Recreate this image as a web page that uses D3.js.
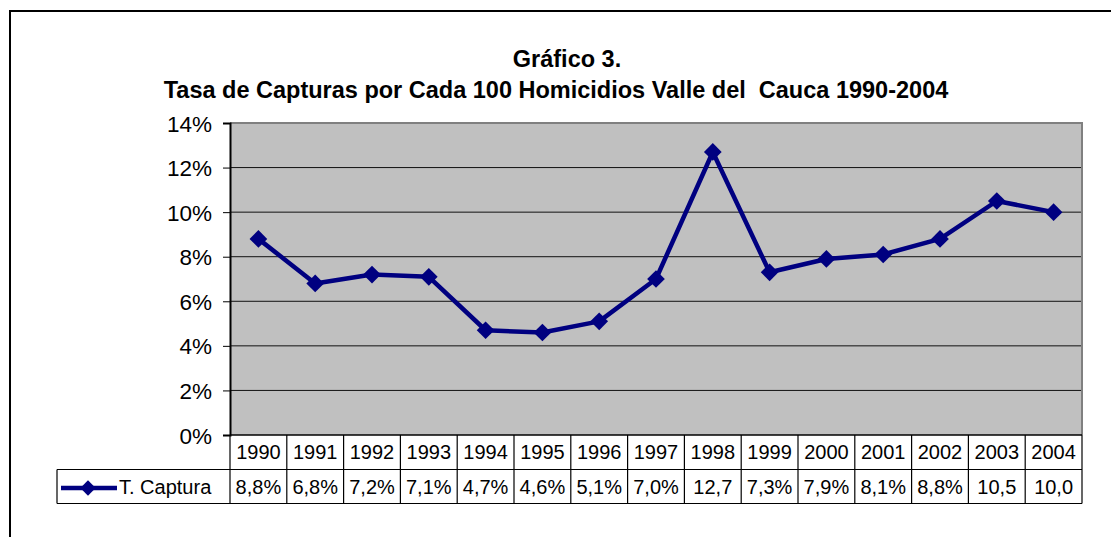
<!DOCTYPE html>
<html>
<head>
<meta charset="utf-8">
<script src="https://cdn.jsdelivr.net/npm/d3@7"></script>
<style>
  body { margin: 0; background: #fff; }
  text { font-family: "Liberation Sans", Arial, sans-serif; }
</style>
</head>
<body>
<svg id="chart" width="1111" height="537"></svg>
<script>
// data
const years = ["1990","1991","1992","1993","1994","1995","1996","1997","1998","1999","2000","2001","2002","2003","2004"]
const captura = [8.8, 6.8, 7.2, 7.1, 4.7, 4.6, 5.1, 7.0, 12.7, 7.3, 7.9, 8.1, 8.8, 10.5, 10.0]
const tableLabels = ["8,8%","6,8%","7,2%","7,1%","4,7%","4,6%","5,1%","7,0%","12,7","7,3%","7,9%","8,1%","8,8%","10,5","10,0"]
const yTicks = [0, 2, 4, 6, 8, 10, 12, 14]
const seriesName = "T. Captura"
const titleLines = ["Gráfico 3.", "Tasa de Capturas por Cada 100 Homicidios Valle del  Cauca 1990-2004"]

const svg = d3.select("#chart")
const plotL = 230, plotR = 1082, plotT = 123, plotB = 435
const row1 = 469.5, row2 = 503.5, legendLeft = 57
const navy = "#000080"

// outer frame
svg.append("rect")
   .attr("x", 10).attr("y", 11)
   .attr("width", 1140).attr("height", 560)
   .attr("fill", "none").attr("stroke", "#000").attr("stroke-width", 2)

// title
svg.append("text").attr("x", 567).attr("y", 67)
   .attr("text-anchor", "middle").attr("font-size", 23.5).attr("font-weight", "bold")
   .text(titleLines[0])
svg.append("text").attr("x", 556).attr("y", 98)
   .attr("text-anchor", "middle").attr("font-size", 23.5).attr("font-weight", "bold")
   .style("white-space", "pre")
   .text(titleLines[1])

let x = d3.scaleBand().domain(years).range([plotL, plotR])
let y = d3.scaleLinear().domain([0, 14]).range([plotB, plotT])

// plot area
svg.append("rect")
   .attr("x", plotL).attr("y", plotT)
   .attr("width", plotR - plotL).attr("height", plotB - plotT)
   .attr("fill", "#c0c0c0")

// gridlines
svg.append("g").selectAll("line")
   .data(yTicks.filter(d => d > 0 && d < 14))
   .join("line")
   .attr("x1", plotL).attr("x2", plotR)
   .attr("y1", d => y(d)).attr("y2", d => y(d))
   .attr("stroke", "#111").attr("stroke-width", 1)

// grey border top/right
svg.append("path")
   .attr("d", `M${plotL},${plotT}H${plotR}V${plotB}`)
   .attr("fill", "none").attr("stroke", "#808080").attr("stroke-width", 2)

// y axis
let yAxis = d3.axisLeft(y).tickValues(yTicks).tickFormat(d => d + "%").tickSize(7).tickPadding(11)
let ga = svg.append("g").attr("transform", `translate(${plotL},0)`).call(yAxis)
ga.select(".domain").attr("stroke", "#000").attr("stroke-width", 2)
ga.selectAll(".tick line").attr("stroke", "#000")
ga.selectAll(".tick text").attr("font-size", 22.5).attr("fill", "#000")
  .attr("font-family", "Liberation Sans, Arial, sans-serif").attr("dy", "0.36em")

// x axis line
svg.append("line").attr("x1", plotL).attr("x2", plotR).attr("y1", plotB).attr("y2", plotB)
   .attr("stroke", "#000").attr("stroke-width", 1.5)

// series line
let pts = years.map((yr, i) => [x(yr) + x.bandwidth() / 2, y(captura[i])])
svg.append("path")
   .attr("d", d3.line()(pts))
   .attr("fill", "none").attr("stroke", navy).attr("stroke-width", 4.5)
   .attr("stroke-linejoin", "round")

let diamond = d3.symbol().type(d3.symbolDiamond2).size(200)
svg.append("g").selectAll("path")
   .data(pts)
   .join("path")
   .attr("transform", d => `translate(${d[0]},${d[1]})`)
   .attr("d", diamond)
   .attr("fill", navy)

// data table
let tbl = svg.append("g").attr("stroke", "#000").attr("stroke-width", 1.2)
tbl.append("line").attr("x1", legendLeft).attr("x2", plotR).attr("y1", row1).attr("y2", row1)
tbl.append("line").attr("x1", legendLeft).attr("x2", plotR).attr("y1", row2).attr("y2", row2)
tbl.append("line").attr("x1", legendLeft).attr("x2", legendLeft).attr("y1", row1).attr("y2", row2)
tbl.selectAll(".vl")
   .data(years.concat(["end"]))
   .join("line")
   .attr("x1", (d, i) => plotL + i * x.bandwidth())
   .attr("x2", (d, i) => plotL + i * x.bandwidth())
   .attr("y1", plotB).attr("y2", row2)

svg.append("g").selectAll("text")
   .data(years)
   .join("text")
   .attr("x", d => x(d) + x.bandwidth() / 2)
   .attr("y", 459)
   .attr("text-anchor", "middle").attr("font-size", 20)
   .text(d => d)

svg.append("g").selectAll("text")
   .data(tableLabels)
   .join("text")
   .attr("x", (d, i) => x(years[i]) + x.bandwidth() / 2)
   .attr("y", 494)
   .attr("text-anchor", "middle").attr("font-size", 20)
   .text(d => d)

// legend key
svg.append("line").attr("x1", 61).attr("x2", 117).attr("y1", 488).attr("y2", 488)
   .attr("stroke", navy).attr("stroke-width", 4.5)
svg.append("path").attr("transform", "translate(88,488)")
   .attr("d", d3.symbol().type(d3.symbolDiamond2).size(150)).attr("fill", navy)
svg.append("text").attr("x", 119).attr("y", 494).attr("font-size", 20).text(seriesName)
</script>
</body>
</html>
